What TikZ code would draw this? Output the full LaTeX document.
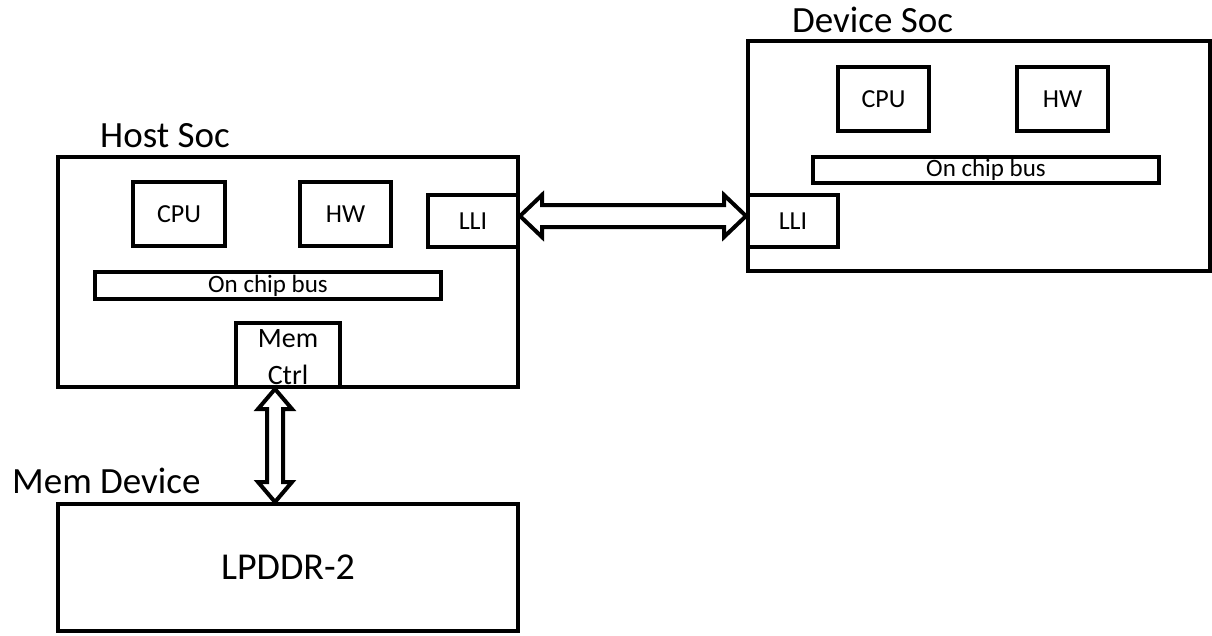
\documentclass[tikz,border=0pt]{standalone}
\usepackage{fontspec}
\setmainfont{Carlito}
\usetikzlibrary{calc}

\tikzset{
  blk/.style={draw, line width=4pt, inner sep=0pt, rectangle},
  small/.style={font=\fontsize{26}{30}\selectfont},
  title/.style={font=\fontsize{37}{42}\selectfont, anchor=base west, inner sep=0pt},
  link/.style={draw, line width=4pt, fill=white, line join=miter}
}

\begin{document}
\begin{tikzpicture}[x=1pt, y=-1pt]
  \useasboundingbox (0,0) rectangle (1212,635);

  % Host SoC
  \node[blk, minimum width=460, minimum height=230] (host) at (288,272) {};
  \node[title] (hostlbl) at (100,147) {Host Soc};
  \node[blk, small, minimum width=92, minimum height=64] (hcpu) at (179,214) {CPU};
  \node[blk, small, minimum width=91, minimum height=64] (hhw) at (345.5,214) {HW};
  \node[blk, small, minimum width=90, minimum height=52] (hlli) at (473,221) {LLI};
  \node[blk, minimum width=346, minimum height=27] (hbus) at (268,285.5) {};
  \node[inner sep=0pt, font=\fontsize{25}{28}\selectfont] (hbustxt) at (hbus.center) {On chip bus};
  \node[blk, minimum width=104, minimum height=64] (memctrl) at (288,355) {};
  \node[align=center, inner sep=0pt, font=\fontsize{28}{37}\selectfont] (memctrltxt) at (288,357) {Mem\\Ctrl};

  % Device SoC
  \node[blk, minimum width=462, minimum height=230] (dev) at (979,156) {};
  \node[title] (devlbl) at (792,32) {Device Soc};
  \node[blk, small, minimum width=91, minimum height=64] (dcpu) at (883.5,99) {CPU};
  \node[blk, small, minimum width=91, minimum height=64] (dhw) at (1062.5,99) {HW};
  \node[blk, minimum width=346, minimum height=26] (dbus) at (986,170) {};
  \node[inner sep=0pt, font=\fontsize{25}{28}\selectfont] (dbustxt) at (dbus.center) {On chip bus};
  \node[blk, small, minimum width=90, minimum height=52] (dlli) at (793,221) {LLI};

  % Memory device
  \node[title] (memlbl) at (12,493) {Mem Device};
  \node[blk, minimum width=460, minimum height=127, font=\fontsize{38}{42}\selectfont] (lpddr) at (288,567.5) {LPDDR-2};

  % LLI link between the two SoCs (hollow double arrow)
  \coordinate (la) at ($(hlli.east)+(0,-5)$);
  \coordinate (lb) at ($(dlli.west)+(0,-5)$);
  \path[link] (la) -- ($(la)+(22,-21)$) -- ($(la)+(22,-11)$) -- ($(lb)+(-22,-11)$)
    -- ($(lb)+(-22,-21)$) -- (lb) -- ($(lb)+(-22,21)$) -- ($(lb)+(-22,11)$)
    -- ($(la)+(22,11)$) -- ($(la)+(22,21)$) -- cycle;

  % Memory bus between controller and LPDDR-2 (hollow double arrow)
  \coordinate (ma) at ($(memctrl.south)+(-13,0)$);
  \coordinate (mb) at ($(lpddr.north)+(-13,0)$);
  \path[link] (ma) -- ($(ma)+(17,20)$) -- ($(ma)+(8,20)$) -- ($(mb)+(8,-20)$)
    -- ($(mb)+(17,-20)$) -- (mb) -- ($(mb)+(-17,-20)$) -- ($(mb)+(-8,-20)$)
    -- ($(ma)+(-8,20)$) -- ($(ma)+(-17,20)$) -- cycle;
\end{tikzpicture}
\end{document}
